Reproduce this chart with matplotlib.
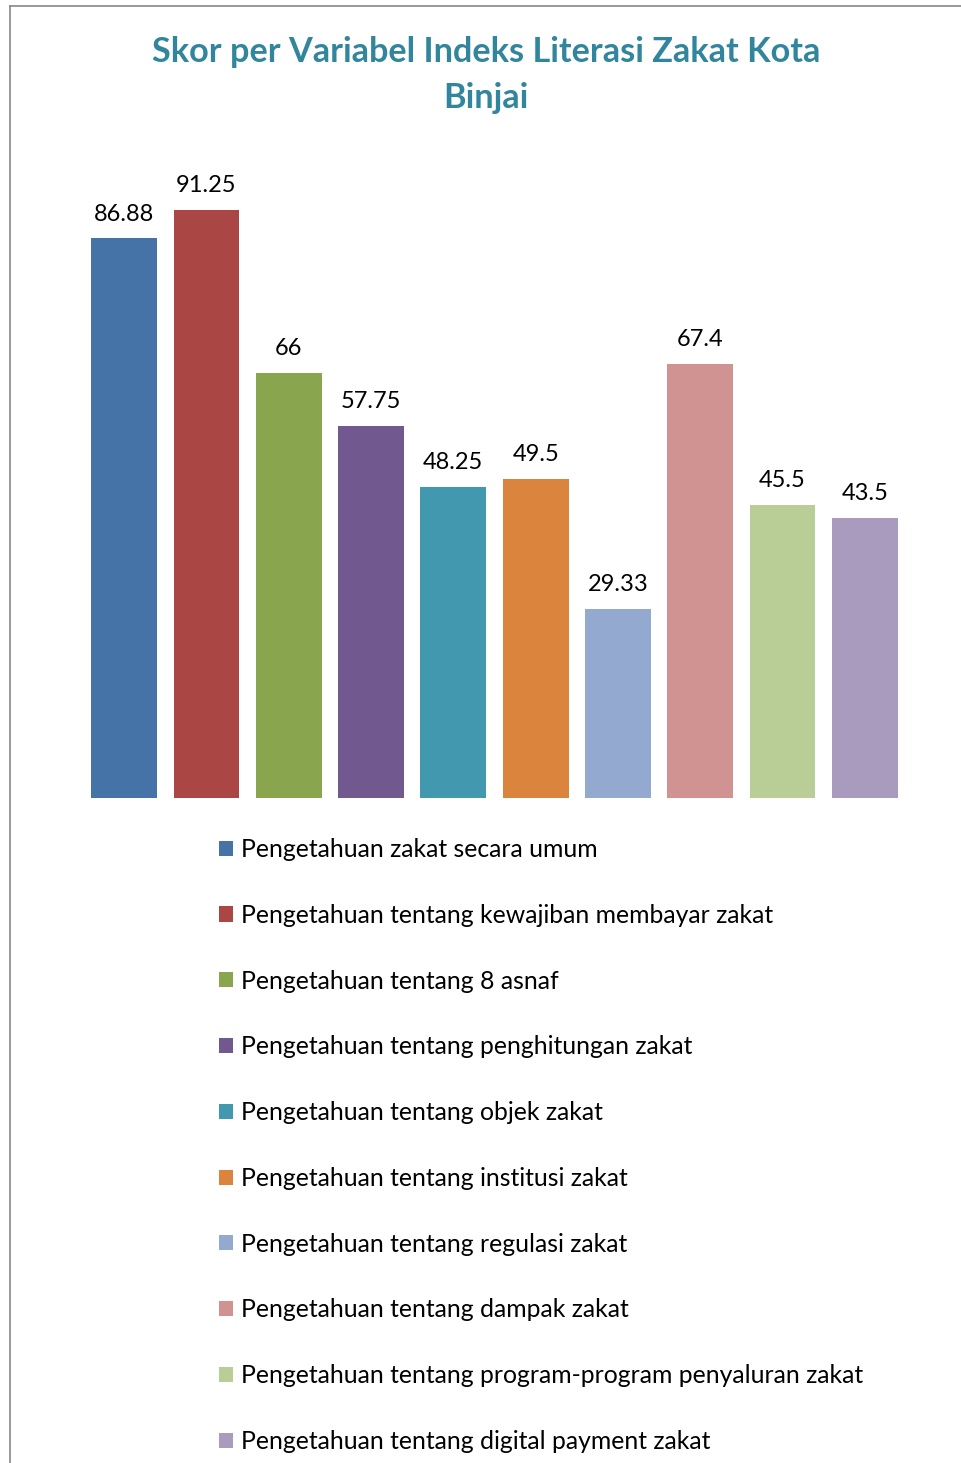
import matplotlib
matplotlib.use("Agg")
import matplotlib.pyplot as plt
from matplotlib.lines import Line2D

categories = [
    "Pengetahuan zakat secara umum",
    "Pengetahuan tentang kewajiban membayar zakat",
    "Pengetahuan tentang 8 asnaf",
    "Pengetahuan tentang penghitungan zakat",
    "Pengetahuan tentang objek zakat",
    "Pengetahuan tentang institusi zakat",
    "Pengetahuan tentang regulasi zakat",
    "Pengetahuan tentang dampak zakat",
    "Pengetahuan tentang program-program penyaluran zakat",
    "Pengetahuan tentang digital payment zakat",
]
values = [86.88, 91.25, 66, 57.75, 48.25, 49.5, 29.33, 67.4, 45.5, 43.5]
value_labels = ["86.88", "91.25", "66", "57.75", "48.25", "49.5", "29.33", "67.4", "45.5", "43.5"]
colors = ["#4572A7", "#AA4643", "#89A54E", "#71588F", "#4198AF",
          "#DB843D", "#93A9CF", "#D19392", "#B9CD96", "#A99BBD"]
title = "Skor per Variabel Indeks Literasi Zakat Kota\nBinjai"

plt.rcParams['font.family'] = ['Lato', 'DejaVu Sans']

W, H = 962, 1463
fig = plt.figure(figsize=(W / 100, H / 100), dpi=100)

def fx(px):
    return px / W

def fy(py):
    return 1 - py / H

ax = fig.add_axes([fx(83), fy(798), fx(906) - fx(83), fy(153.5) - fy(798)])
bars = []
for i, (v, c) in enumerate(zip(values, colors)):
    b = ax.bar(i, v, width=0.8, color=c, label=categories[i])
    bars.append(b)
    ax.text(i, v + 2.1, value_labels[i], ha='center', va='bottom', fontsize=17, color='black')
ax.set_xlim(-0.5, len(values) - 0.5)
ax.set_ylim(0, 100)
ax.axis('off')

fig.text(fx(486), fy(75), title, ha='center', va='center', fontsize=24.7, fontweight='bold',
         color='#31859C', linespacing=1.57)

fig.legend(bars, categories, loc='upper left', bbox_to_anchor=(fx(219), fy(838)),
           frameon=False, fontsize=17.8, labelspacing=1.73, handlelength=0.57,
           handleheight=0.57, handletextpad=0.32, borderaxespad=0, borderpad=0)

fig.add_artist(Line2D([fx(9.5), 1], [fy(6), fy(6)], transform=fig.transFigure,
                      color='#888888', lw=1.2))
fig.add_artist(Line2D([fx(9.5), fx(9.5)], [fy(6), 0], transform=fig.transFigure,
                      color='#888888', lw=1.2))

fig.savefig("out.png", dpi=100)
